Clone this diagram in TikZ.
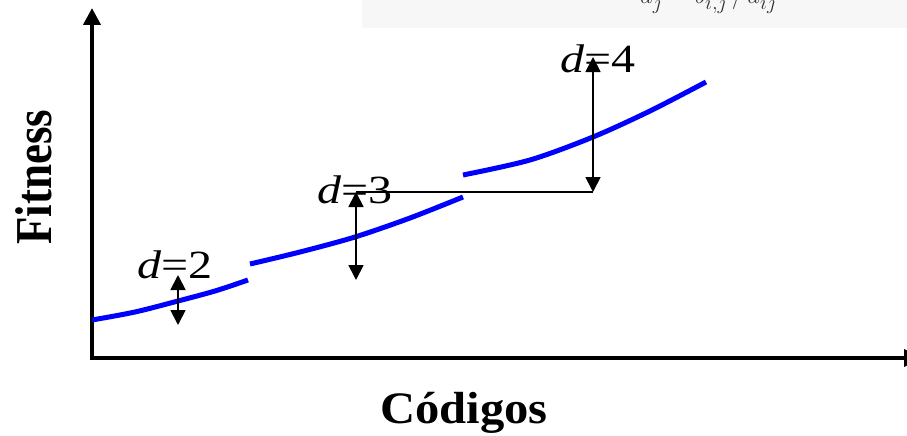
\documentclass[tikz,border=0pt]{standalone}
\usepackage{fontspec}
\setmainfont{Liberation Serif}
\usetikzlibrary{arrows.meta}
\begin{document}
\begin{tikzpicture}[x=1pt,y=-1pt,
  axis/.style={line width=4pt,{Triangle[length=17pt,width=17pt]}-{Triangle[length=17pt,width=17pt]}},
  curve/.style={blue,line width=5pt},
  darrow/.style={line width=1.8pt,{Triangle[length=15pt,width=15pt]}-{Triangle[length=15pt,width=15pt]}},
  thinline/.style={line width=1.8pt},
  dlabel/.style={font=\fontsize{40}{43}\selectfont,xscale=1.2,inner sep=0pt,anchor=base},
  axlabel/.style={font=\fontsize{45}{50}\selectfont\bfseries,inner sep=0pt}]
\useasboundingbox (0,0) rectangle (907,436);
\clip (0,0) rectangle (907,436);
% faint formula box at the top (cut off)
\fill[black!3] (362,-5) rectangle (912,28);
\node[anchor=base west,inner sep=0pt,text=black!80,font=\fontsize{32}{34}\selectfont] (frm) at (640,4) {$a_j = b_{i,j}\,/\,d_{ij}$};
% axes
\coordinate (O) at (92,358);
\coordinate (ytop) at (92,8);
\coordinate (xend) at (921,358);
\draw[axis] (ytop) -- (O) -- (xend);
% curve segments
\draw[curve] plot[smooth] coordinates {(92,320) (135,312) (178,301) (215,291) (248,280)};
\draw[curve] plot[smooth] coordinates {(250,264) (300,252) (355,237) (410,218) (463,197)};
\draw[curve] plot[smooth] coordinates {(463,175) (530,160) (593,137) (650,111) (706,82)};
% distance arrows
\coordinate (a2t) at (178,275);
\coordinate (a2b) at (178,325);
\coordinate (a3t) at (356,192);
\coordinate (a3b) at (356,280);
\coordinate (a4t) at (593,57);
\coordinate (a4b) at (593,192);
\draw[thinline] (a3t) -- (a4b);
\draw[darrow] (a2t) -- (a2b);
\draw[darrow] (a3t) -- (a3b);
\draw[darrow] (a4t) -- (a4b);
% labels
\node[dlabel] (l2) at (175,278) {\textit{d}=2};
\node[dlabel] (l3) at (355,203) {\textit{d}=3};
\node[dlabel] (l4) at (598,72) {\textit{d}=4};
\node[axlabel,rotate=90,yscale=1.15] (fit) at (34,177) {Fitness};
\node[axlabel,anchor=base,xscale=1.08] (cod) at (464,423) {Códigos};
\end{tikzpicture}
\end{document}
